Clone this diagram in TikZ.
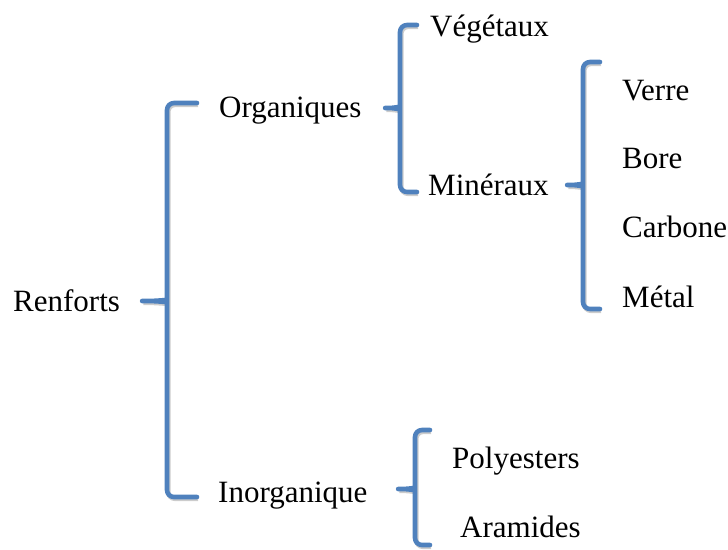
\documentclass[tikz,border=0pt]{standalone}
\usepackage{fontspec}
\setmainfont{Liberation Serif}
\definecolor{bracebleu}{RGB}{79,129,189}
\tikzset{
	accol/.style={draw=bracebleu, line width=4.6pt, line cap=round, line join=round, rounded corners=7pt,
		preaction={draw=black!20, line width=4.6pt, transform canvas={shift={(1.2pt,-1.8pt)}}}},
	terme/.style={anchor=base west, inner sep=0pt, font=\fontsize{31}{36}\selectfont}
}
% accolade: x vertical, y haut, y pointe, y bas, x pointe, x bras
\newcommand{\accolade}[6]{%
	\draw[accol] (#6,#2) -- (#1,#2) -- (#1,#3-7) .. controls (#1,#3-2) and (#1-4,#3) .. (#5,#3)
		.. controls (#1-4,#3) and (#1,#3+2) .. (#1,#3+7) -- (#1,#4) -- (#6,#4);}
\begin{document}
\begin{tikzpicture}[x=1pt, y=-1pt]
		\useasboundingbox (0,0) rectangle (728,549);
		\node[terme] (renforts) at (13,311) {Renforts};
		\node[terme] (organiques) at (219,117) {Organiques};
		\node[terme] (inorganique) at (218,502) {Inorganique};
		\node[terme] (vegetaux) at (430,36) {Végétaux};
		\node[terme] (mineraux) at (428,195) {Minéraux};
		\node[terme] (verre) at (622,100) {Verre};
		\node[terme] (bore) at (622,168) {Bore};
		\node[terme] (carbone) at (622,237) {Carbone};
		\node[terme] (metal) at (622,307) {Métal};
		\node[terme] (polyesters) at (452,468) {Polyesters};
		\node[terme] (aramides) at (460,537) {Aramides};
		\accolade{167}{103}{301}{497}{138}{197}
		\accolade{400}{25}{108}{192}{381}{417}
		\accolade{583}{62}{185}{309}{563}{600}
		\accolade{415}{430}{489}{545}{394}{430}
\end{tikzpicture}
\end{document}
